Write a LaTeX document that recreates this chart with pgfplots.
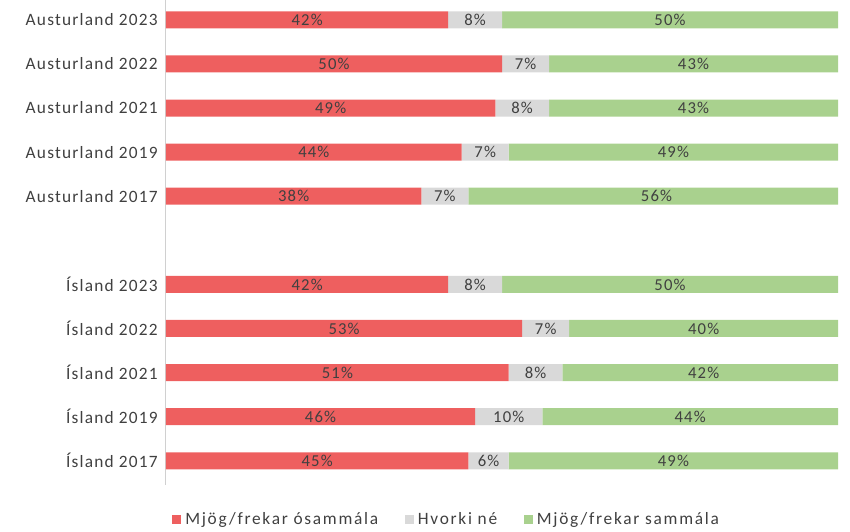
\documentclass[border=0pt]{standalone}
\usepackage{fontspec}
\setmainfont{Carlito}[LetterSpace=7]
\usepackage{pgfplots}
\usepackage{pgfplotstable}
\pgfplotsset{compat=1.18}
\definecolor{cred}{HTML}{EE5F5F}
\definecolor{cgray}{HTML}{D9D9D9}
\definecolor{cgreen}{HTML}{A9D18E}
\definecolor{ctext}{HTML}{404040}
\definecolor{caxis}{HTML}{D0D0D0}

\pgfplotstableread{
y r n s
0 42 8 50
1 50 7 43
2 49 8 43
3 44 7 49
4 38 7 56
6 42 8 50
7 53 7 40
8 51 8 42
9 46 10 44
10 45 6 49
}\data

\pgfplotsset{
  base/.style={
    width=504pt, height=363.75pt, scale only axis,
    xmin=0, xmax=100, ymin=-0.45, ymax=10.55, y dir=reverse,
    at={(0,0)}, anchor=south west,
    xtick=\empty,
  },
}

\begin{document}
\begin{tikzpicture}
\useasboundingbox (-124.5pt,-35.25pt) rectangle (513pt,363.75pt);
\begin{axis}[base,
  xbar stacked, bar width=12.75pt,
  axis lines*=left,
  x axis line style={draw=none},
  y axis line style={draw=caxis, line width=0.75pt},
  ytick={0,1,2,3,4,6,7,8,9,10},
  yticklabels={Austurland 2023,Austurland 2022,Austurland 2021,Austurland 2019,Austurland 2017,Ísland 2023,Ísland 2022,Ísland 2021,Ísland 2019,Ísland 2017},
  major tick length=0pt,
  yticklabel style={font=\fontsize{13}{15}\selectfont, text=ctext, inner xsep=0pt, xshift=-6pt},
  legend style={at={(0.419,-0.072)}, anchor=center, draw=none, fill=none,
    legend columns=3, font=\fontsize{13}{15}\selectfont\addfontfeatures{LetterSpace=10}, text=ctext,
    /tikz/every even column/.append style={column sep=17pt},
    /tikz/every odd column/.append style={column sep=0pt},
    nodes={inner xsep=3pt}},
  legend image code/.code={\fill[#1] (0pt,-3.4pt) rectangle (6.8pt,3.4pt);},
]
\addplot[fill=cred, draw=none] table[x=r, y=y] {\data};
\addlegendentry{Mjög/frekar ósammála}
\addplot[fill=cgray, draw=none] table[x=n, y=y] {\data};
\addlegendentry{Hvorki né\hspace{4pt}}
\addplot[fill=cgreen, draw=none] table[x=s, y=y] {\data};
\addlegendentry{Mjög/frekar sammála}
\end{axis}
\begin{axis}[base, hide axis,
  /pgf/number format/assume math mode=true,
  nodes near coords={\pgfmathprintnumber{\pgfplotspointmeta}\%},
  every node near coord/.append style={anchor=center, font=\fontsize{12.5}{15}\selectfont, text=ctext},
]
\addplot[draw=none, mark=none, point meta=explicit] table[x expr=\thisrow{r}/2, y=y, meta=r] {\data};
\addplot[draw=none, mark=none, point meta=explicit] table[x expr=\thisrow{r}+\thisrow{n}/2, y=y, meta=n] {\data};
\addplot[draw=none, mark=none, point meta=explicit] table[x expr=\thisrow{r}+\thisrow{n}+\thisrow{s}/2, y=y, meta=s] {\data};
\end{axis}
\end{tikzpicture}
\end{document}
